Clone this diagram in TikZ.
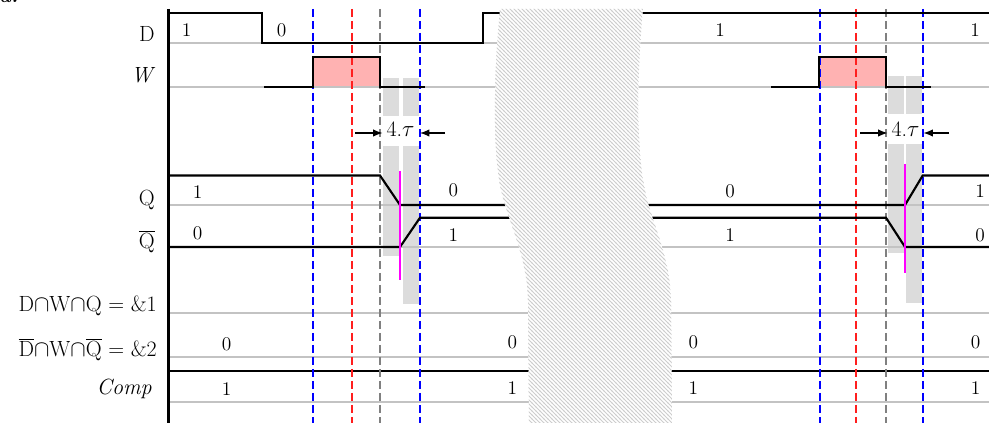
\documentclass[tikz,border=0pt]{standalone}
\usetikzlibrary{arrows.meta,patterns}
\definecolor{pinkW}{RGB}{255,178,178}
\definecolor{blockgray}{RGB}{220,220,220}
\definecolor{dblue}{RGB}{0,0,255}
\definecolor{dred}{RGB}{255,30,30}
\definecolor{dgray}{RGB}{128,128,128}
\definecolor{mag}{RGB}{255,0,255}
\definecolor{baseg}{RGB}{195,195,195}
\definecolor{hatchg}{RGB}{205,205,205}
\pgfdeclarepatternformonly{hatchx}{\pgfqpoint{-1pt}{-1pt}}{\pgfqpoint{4pt}{4pt}}{\pgfqpoint{3pt}{3pt}}{%
  \pgfsetlinewidth{0.7pt}%
  \pgfpathmoveto{\pgfqpoint{-0.5pt}{3.5pt}}%
  \pgfpathlineto{\pgfqpoint{3.5pt}{-0.5pt}}%
  \pgfusepath{stroke}}
\begin{document}
\begin{tikzpicture}[x=0.75pt,y=-0.75pt,
  wave/.style={line width=1.6pt, black, line join=miter},
  baseln/.style={line width=0.9pt, baseg},
  vdash/.style={line width=1.2pt, dash pattern=on 6pt off 3pt},
  blk/.style={fill=blockgray, draw=none},
  val/.style={font=\fontsize{14.5}{16}\selectfont, inner sep=0pt},
  lab/.style={font=\fontsize{16.5}{18}\selectfont, inner sep=0pt},
  meas/.style={-{Latex[length=7pt,width=5.5pt]}, line width=0.9pt}]
\useasboundingbox (0,0) rectangle (989,423);
\fill[white] (0,0) rectangle (989,423);
% cut-off caption
\node[anchor=base west, inner sep=0pt, font=\fontsize{15}{17}\selectfont\bfseries\itshape] (cap) at (-1,2.5) {a.};
% grey blocks
\fill[blk] (382.7,77.7) rectangle (399,115.7);
\fill[blk] (402.7,77.7) rectangle (419,115.7);
\fill[blk] (383,146) rectangle (399,255.7);
\fill[blk] (403,146) rectangle (419,304);
\fill[blk] (888.3,76.3) rectangle (904,113.7);
\fill[blk] (906,76.3) rectangle (922.3,113.7);
\fill[blk] (888,144) rectangle (904,253);
\fill[blk] (906,144) rectangle (922,302.7);
% pink pulses
\fill[pinkW] (313,57) rectangle (380,87);
\fill[pinkW] (819,57) rectangle (886,87);
% grey baselines
\foreach \yy in {43,87,205,247,313,357,402}
  \draw[baseln] (170,\yy) -- (989,\yy);
% comp separator
\draw[wave] (170,371) -- (989,371);
% dashed markers
\foreach \xx in {313,420,820,923} \draw[vdash, dblue] (\xx,9) -- (\xx,423);
\foreach \xx in {352,856} \draw[vdash, dred] (\xx,9) -- (\xx,423);
\foreach \xx in {380,886} \draw[vdash, dgray] (\xx,9) -- (\xx,423);
% waveforms
\draw[wave] (170,13) -- (262,13) -- (262,43) -- (483,43) -- (483,13) -- (510,13);
\draw[wave] (635,13) -- (989,13);
\draw[wave] (264,87) -- (313,87) -- (313,57) -- (380,57) -- (380,87) -- (425,87);
\draw[wave] (771,87) -- (819,87) -- (819,57) -- (886,57) -- (886,87) -- (931,87);
\draw[wave] (170,175.5) -- (380,175.5) -- (400,205) -- (510,205);
\draw[wave] (170,247) -- (400,247) -- (420,217.7) -- (515,217.7);
\draw[wave] (640,205) -- (905,205) -- (922.7,175.5) -- (989,175.5);
\draw[wave] (640,217.7) -- (886,217.7) -- (905,247) -- (989,247);
% magenta markers
\draw[mag, line width=1.2pt] (400,171) -- (400,280);
\draw[mag, line width=1.2pt] (905,164) -- (905,273);
% axis
\draw[line width=2.5pt] (168.5,9) -- (168.5,423);
% hatched break
\path[fill=white] (500,9) .. controls (494,70) and (492,150) .. (501,190) .. controls (508,222) and (527,255) .. (528,300) -- (529,424)
  -- (672,424) -- (671,300) .. controls (670,255) and (651,222) .. (645,190) .. controls (636,150) and (637,70) .. (643,9) -- cycle;
\path[pattern=hatchx, pattern color=hatchg] (500,9) .. controls (494,70) and (492,150) .. (501,190) .. controls (508,222) and (527,255) .. (528,300) -- (529,424)
  -- (672,424) -- (671,300) .. controls (670,255) and (651,222) .. (645,190) .. controls (636,150) and (637,70) .. (643,9) -- cycle;
% measurement arrows
\node[lab, anchor=base] (tauL) at (400.5,136.7) {4.$\tau$};
\coordinate (aL1) at (355,133);
\coordinate (aL2) at (382.5,133);
\coordinate (aL3) at (445,133);
\coordinate (aL4) at (420,133);
\draw[meas] (aL1) -- (aL2);
\draw[meas] (aL3) -- (aL4);
\node[lab, anchor=base] (tauR) at (905.5,136.7) {4.$\tau$};
\coordinate (aR1) at (860,133);
\coordinate (aR2) at (887.5,133);
\coordinate (aR3) at (949,133);
\coordinate (aR4) at (923.5,133);
\draw[meas] (aR1) -- (aR2);
\draw[meas] (aR3) -- (aR4);
% values
\node[val] (d1) at (186.7,30) {1};
\node[val] (d2) at (281.7,30) {0};
\node[val] (d3) at (720,30.5) {1};
\node[val] (d4) at (975,30.5) {1};
\node[val] (q1) at (197.7,192.5) {1};
\node[val] (q2) at (197.7,233) {0};
\node[val] (q3) at (453.3,190.5) {0};
\node[val] (q4) at (453.3,235.5) {1};
\node[val] (q5) at (730,191) {0};
\node[val] (q6) at (730,235) {1};
\node[val] (q7) at (980,191) {1};
\node[val] (q8) at (980,235) {0};
\node[val] (e1) at (226.7,344) {0};
\node[val] (e2) at (512.3,342) {0};
\node[val] (e3) at (693.3,342) {0};
\node[val] (e4) at (975.7,342) {0};
\node[val] (c1) at (226.7,389) {1};
\node[val] (c2) at (512.3,388) {1};
\node[val] (c3) at (693.3,388) {1};
\node[val] (c4) at (975.7,388) {1};
% row labels
\node[lab, anchor=base east] (lD) at (155,41.5) {D};
\node[lab, anchor=base east] (lW) at (153,82.5) {\itshape W};
\node[lab, anchor=base east] (lQ) at (155,206) {Q};
\node[lab, anchor=base east] (lQb) at (155,249) {$\overline{\mbox{Q}}$};
\node[lab, anchor=base east] (l1) at (157,311.5) {D$\cap$W$\cap$Q = \&1};
\node[lab, anchor=base east] (l2) at (157,356.5) {$\overline{\mbox{D}}\cap$W$\cap\overline{\mbox{Q}}$ = \&2};
\node[lab, anchor=base east] (lC) at (152,395) {\itshape Comp};
\end{tikzpicture}
\end{document}
